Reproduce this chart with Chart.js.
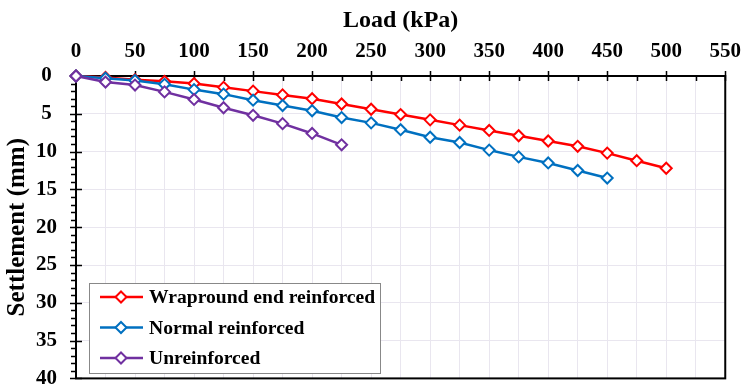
<!DOCTYPE html>
<html>
<head>
<meta charset="utf-8">
<script src="https://cdn.jsdelivr.net/npm/chart.js@4"></script>
<style>
  html, body { margin: 0; padding: 0; background: #fff; overflow: hidden; }
  #wrap { position: relative; width: 753px; height: 410px; }
</style>
</head>
<body>
<div id="wrap"><canvas id="settlementChart"></canvas></div>
<script>
// load steps (kPa) and settlement readings (mm)
const loads = [0, 25, 50, 75, 100, 125, 150, 175, 200, 225, 250, 275, 300, 325, 350, 375, 400, 425, 450, 475, 500];
const wraparound = [0, 0.2, 0.5, 0.7, 1.0, 1.5, 2.0, 2.5, 3.0, 3.7, 4.4, 5.1, 5.8, 6.5, 7.2, 7.9, 8.6, 9.3, 10.2, 11.2, 12.2];
const normal = [0, 0.3, 0.6, 1.1, 1.8, 2.4, 3.2, 3.9, 4.6, 5.5, 6.2, 7.1, 8.1, 8.8, 9.8, 10.7, 11.5, 12.5, 13.5];
const unreinforced = [0, 0.8, 1.2, 2.1, 3.1, 4.2, 5.2, 6.3, 7.6, 9.1];
const seriesNames = ['Wrapround end reinforced', 'Normal reinforced', 'Unreinforced'];
const seriesColors = ['#ff0000', '#0070c0', '#7030a0'];

const serif = 'Liberation Serif, Times New Roman, serif';
const pts = arr => arr.map((v, i) => ({ x: loads[i], y: v }));

function series(i, values) {
    return {
        label: seriesNames[i],
        data: pts(values),
        borderColor: seriesColors[i],
        backgroundColor: '#ffffff',
        borderWidth: 2.5,
        pointStyle: 'rectRot',
        pointRadius: 5.5,
        pointBorderWidth: 2,
        pointBackgroundColor: '#ffffff',
        pointBorderColor: seriesColors[i],
        clip: false,
        order: 3 - i
    };
}

// frame + tick marks
const framePlugin = {
    id: 'frame',
    beforeDatasetsDraw(chart) {
        const { ctx, chartArea: a, scales: { x, y } } = chart;
        ctx.save();
        ctx.strokeStyle = '#000';
        ctx.lineWidth = 2;
        ctx.strokeRect(a.left, a.top, a.right - a.left, a.bottom - a.top);
        ctx.lineWidth = 1.5;
        ctx.beginPath();
        for (let v = 0; v <= 550; v += 25) {
            const px = Math.round(x.getPixelForValue(v)) + 0.5;
            if (v % 50 === 0) {
                ctx.moveTo(px, a.top - 5);
                ctx.lineTo(px, a.top + 5);
            } else {
                ctx.moveTo(px, a.top);
                ctx.lineTo(px, a.top + 5);
            }
        }
        for (let v = 0; v <= 40; v += 1) {
            const py = Math.round(y.getPixelForValue(v)) + 0.5;
            if (v % 5 === 0) {
                ctx.moveTo(a.left - 6, py);
                ctx.lineTo(a.left + 6, py);
            } else {
                ctx.moveTo(a.left - 5, py);
                ctx.lineTo(a.left, py);
            }
        }
        ctx.stroke();
        ctx.restore();
    }
};

// legend box inside plot area
const legendPlugin = {
    id: 'boxLegend',
    afterDraw(chart) {
        const ctx = chart.ctx;
        const bx = 89, by = 283, bw = 291, bh = 90;
        ctx.save();
        ctx.fillStyle = '#fff';
        ctx.fillRect(bx, by, bw, bh);
        ctx.strokeStyle = '#888';
        ctx.lineWidth = 1;
        ctx.strokeRect(bx + 0.5, by + 0.5, bw, bh);
        ctx.font = 'bold 19.6px ' + serif;
        ctx.textBaseline = 'middle';
        chart.data.datasets.forEach((ds, i) => {
            const yy = 297 + i * 30.5;
            ctx.strokeStyle = ds.borderColor;
            ctx.lineWidth = 2.5;
            ctx.beginPath();
            ctx.moveTo(100, yy);
            ctx.lineTo(143, yy);
            ctx.stroke();
            ctx.lineWidth = 2;
            ctx.fillStyle = '#fff';
            ctx.beginPath();
            ctx.moveTo(121, yy - 5.5);
            ctx.lineTo(126.5, yy);
            ctx.lineTo(121, yy + 5.5);
            ctx.lineTo(115.5, yy);
            ctx.closePath();
            ctx.fill();
            ctx.stroke();
            ctx.fillStyle = '#000';
            ctx.fillText(ds.label, 149, yy + 1);
        });
        ctx.restore();
    }
};

const settlementCtx = document.getElementById('settlementChart');
new Chart(settlementCtx, {
    type: 'line',
    data: {
        datasets: [
            series(0, wraparound),
            series(1, normal),
            series(2, unreinforced)
        ]
    },
    options: {
        responsive: true,
        maintainAspectRatio: false,
        animation: false,
        layout: { padding: { top: 6, right: 0, left: 3, bottom: 0 } },
        plugins: {
            legend: { display: false },
            tooltip: { enabled: false }
        },
        scales: {
            x: {
                type: 'linear',
                position: 'top',
                min: 0,
                max: 550,
                title: {
                    display: true,
                    text: 'Load (kPa)',
                    color: '#000',
                    font: { family: serif, weight: 'bold', size: 24 },
                    padding: { top: 0, bottom: -8 }
                },
                ticks: {
                    stepSize: 25,
                    autoSkip: false,
                    maxRotation: 0,
                    minRotation: 0,
                    color: '#000',
                    padding: 12,
                    font: { family: serif, weight: 'bold', size: 21 },
                    callback: v => (v % 50 === 0 ? v : '')
                },
                grid: { color: '#e9e6ef', lineWidth: 1, drawTicks: false },
                border: { display: false }
            },
            y: {
                reverse: true,
                min: 0,
                max: 40,
                title: {
                    display: true,
                    text: 'Settlement (mm)',
                    color: '#000',
                    font: { family: serif, weight: 'bold', size: 25 },
                    padding: { top: 0, bottom: -16 }
                },
                ticks: {
                    stepSize: 5,
                    color: '#000',
                    padding: 19,
                    crossAlign: 'center',
                    font: { family: serif, weight: 'bold', size: 21 }
                },
                grid: { color: '#e9e6ef', lineWidth: 1, drawTicks: false },
                border: { display: false }
            }
        }
    },
    plugins: [framePlugin, legendPlugin]
});
</script>
</body>
</html>
